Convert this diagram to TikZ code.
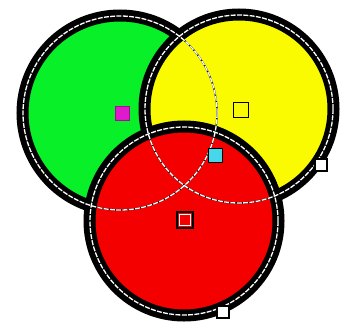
\documentclass[tikz,border=0pt]{standalone}
\begin{document}
\begin{tikzpicture}[x=1pt,y=-1pt,
  band/.style={draw=black,line width=12pt},
  selline/.style={draw=white,line width=1.3pt,dash pattern=on 5pt off 1.3pt},
  selunder/.style={draw=black,line width=1.5pt},
  hollow/.style={draw=black,line width=1.4pt,minimum size=15pt,inner sep=0pt,rectangle},
  handle/.style={draw=black,fill=white,line width=1.2pt,minimum size=12pt,inner sep=0pt,rectangle}]
\definecolor{cgreen}{RGB}{8,240,40}
\definecolor{cyellow}{RGB}{250,250,0}
\definecolor{cred}{RGB}{245,0,0}
\definecolor{cmag}{RGB}{225,25,205}
\definecolor{ccyan}{RGB}{70,215,235}
\useasboundingbox[fill=white] (0,0) rectangle (347,329);
\coordinate (g) at (120,113);
\coordinate (y) at (239,109);
\coordinate (r) at (184,221);
% filled circles with black bands
\fill[cgreen] (g) circle (97);
\draw[band] (g) circle (97.5);
\fill[cyellow] (y) circle (94);
\draw[band] (y) circle (94.5);
\fill[cred] (r) circle (94);
\draw[band] (r) circle (94.5);
% selection outlines
\draw[selunder] (g) circle (97);
\draw[selunder] (y) circle (94);
\draw[selunder] (r) circle (94);
\draw[selline] (g) circle (97);
\draw[selline] (y) circle (94);
\draw[selline] (r) circle (94);
% center markers
\node[rectangle,draw=cmag!70!black,fill=cmag,line width=0.6pt,minimum size=14pt,inner sep=0pt] (gm) at (122,113) {};
\node[hollow] (ym) at (241,110) {};
\node[hollow,minimum size=16pt] (rm) at (185,220) {};
\node[rectangle,draw=white,line width=0.7pt,minimum size=11.5pt,inner sep=0pt] (rmi) at (185,220) {};
\node[rectangle,draw=black,fill=ccyan,line width=0.8pt,minimum size=14pt,inner sep=0pt] (cm) at (215,155) {};
% handles
\node[handle] (yh) at (321,165) {};
\node[handle] (rh) at (223,312) {};
\end{tikzpicture}
\end{document}
